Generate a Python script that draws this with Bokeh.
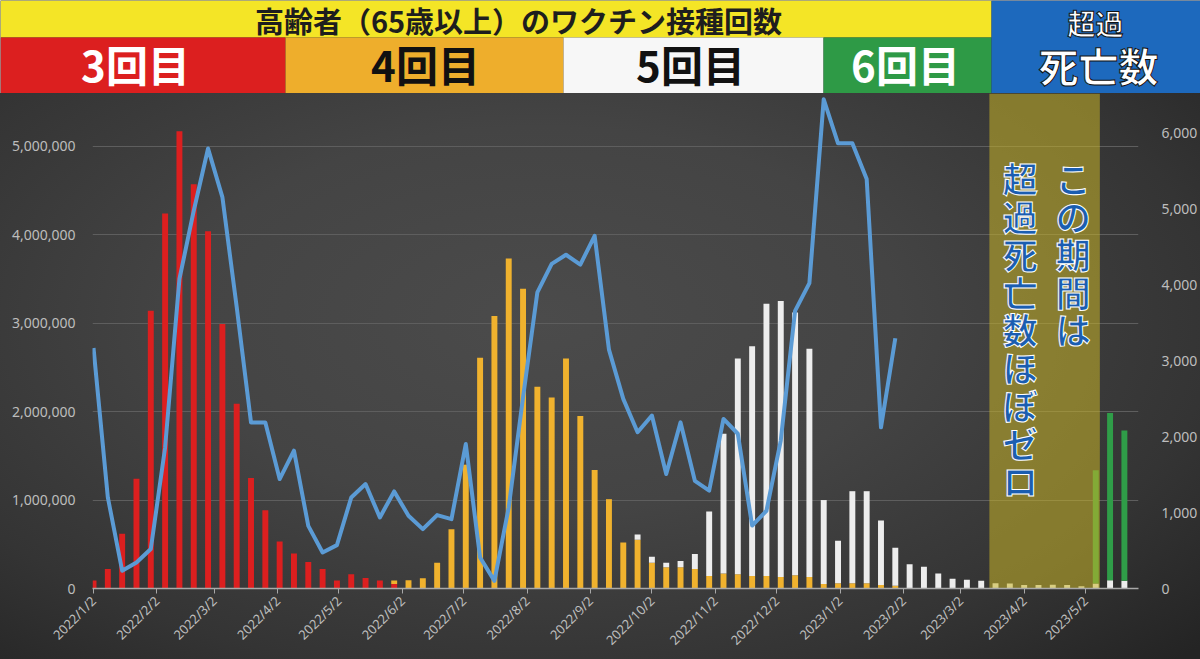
import math
import datetime as dt
from bokeh.plotting import figure
from bokeh.models import Range1d, LinearAxis, FixedTicker, NumeralTickFormatter, ColumnDataSource
from bokeh.layouts import column
from bokeh.embed import file_html
from bokeh.resources import INLINE
from bokeh.core.properties import value

# ---------------- data ----------------
start_date = "2022-01-02"          # first weekly point
n_weeks = 73

dose3 = [90000, 220000, 620000, 1240000, 3140000, 4240000, 5170000, 4570000, 4040000, 2990000,
         2090000, 1250000, 885000, 530000, 395000, 300000, 220000, 90000, 160000, 120000,
         90000, 50000] + [0] * 51

dose4 = [0] * 21 + [40000, 94000, 117000, 290000, 670000, 1400000, 2610000, 3080000, 3730000,
         3390000, 2280000, 2160000, 2600000, 1950000, 1340000, 1010000, 520000, 550000, 290000,
         240000, 240000, 220000, 140000, 170000, 160000, 140000, 140000, 130000, 150000, 130000,
         50000, 60000, 60000, 60000, 40000, 30000] + [0] * 16

dose5 = [0] * 38 + [60000, 70000, 50000, 70000, 170000, 730000, 1580000, 2440000, 2600000,
         3080000, 3120000, 2970000, 2580000, 950000, 480000, 1040000, 1040000, 730000, 430000,
         275000, 245000, 170000, 110000, 98000, 87000, 60000, 56000, 40000, 40000, 42000, 40000,
         26000, 56000, 94000, 87000]

dose6 = [0] * 70 + [1280000, 1890000, 1700000]

excess_deaths = [3170, 1200, 235, 343, 520, 1860, 4080, 4980, 5800, 5160,
                 3710, 2190, 2190, 1443, 1817, 826, 475, 572, 1200, 1377,
                 937, 1280, 959, 783, 968, 915, 1905, 409, 100, 1070,
                 2520, 3905, 4280, 4400, 4270, 4650, 3150, 2500, 2060, 2280,
                 1510, 2190, 1420, 1290, 2235, 2040, 830, 1025, 1950, 3660,
                 4025, 6450, 5870, 5870, 5400, 2125, 3300]

tick_labels = ["2022/1/2", "2022/2/2", "2022/3/2", "2022/4/2", "2022/5/2", "2022/6/2",
               "2022/7/2", "2022/8/2", "2022/9/2", "2022/10/2", "2022/11/2", "2022/12/2",
               "2023/1/2", "2023/2/2", "2023/3/2", "2023/4/2", "2023/5/2"]

left_ticks = [0, 1000000, 2000000, 3000000, 4000000, 5000000]
right_ticks = [0, 1000, 2000, 3000, 4000, 5000, 6000]

band_start = "2023-03-16"
band_end = "2023-05-09"

title_text = "高齢者（65歳以上）のワクチン接種回数"
dose_labels = ["3回目", "4回目", "5回目", "6回目"]
excess_label_top = "超過"
excess_label_bottom = "死亡数"
band_text_right = "この期間は"
band_text_left = "超過死亡数ほぼゼロ"

# ---------------- helpers ----------------
t0 = dt.datetime.strptime(start_date, "%Y-%m-%d")
def day_of(s, fmt):
    return (dt.datetime.strptime(s, fmt) - t0).days

week_x = [7 * i for i in range(n_weeks)]
tick_pos = [day_of(s, "%Y/%m/%d") for s in tick_labels]
b0 = day_of(band_start, "%Y-%m-%d")
b1 = day_of(band_end, "%Y-%m-%d")

RED = "#dc1f1f"
ORANGE = "#f0b22e"
WHITE = "#ededed"
GREEN = "#2f9d48"
BLUE_LINE = "#5b9bd5"
JP = "Noto Sans CJK JP"

# ---------------- header ----------------
hp = figure(width=1200, height=93, x_range=Range1d(0, 1200), y_range=Range1d(93, 0),
            toolbar_location=None, output_backend="svg", min_border=0)
hp.frame_align = False
hp.axis.visible = False
hp.grid.visible = False
hp.outline_line_color = None
hp.background_fill_color = "#2a2a2a"
hp.border_fill_color = "#2a2a2a"

hp.quad(left=[0], right=[991], top=[0], bottom=[37], fill_color="#f4e526", line_color=None)
box_l = [0, 285, 563, 823]
box_r = [285, 563, 823, 991]
box_c = [RED, "#eeae2c", "#f7f7f7", "#2e9a46"]
hp.quad(left=box_l, right=box_r, top=[37] * 4, bottom=[93] * 4, fill_color=box_c, line_color=None)
hp.quad(left=[991], right=[1200], top=[0], bottom=[93], fill_color="#1d69bd", line_color=None)

hp.text(x=[518], y=[19], text=[title_text], text_font=value(JP), text_font_style="bold",
        text_font_size="29px", text_color="#1e1e1e", text_align="center", text_baseline="middle")
hp.text(x=[135, 425, 690, 905], y=[63] * 4, text=dose_labels, text_font=value(JP),
        text_font_style="bold", text_font_size="42px",
        text_color=["#ffffff", "#111111", "#111111", "#ffffff"],
        text_align="center", text_baseline="middle")
hp.text(x=[1095], y=[22], text=[excess_label_top], text_font=value(JP), text_font_style="bold",
        text_font_size="28px", text_color="#ffffff", text_align="center", text_baseline="middle",
        text_outline_color="#111111")
hp.text(x=[1098], y=[64], text=[excess_label_bottom], text_font=value(JP), text_font_style="bold",
        text_font_size="40px", text_color="#ffffff", text_align="center", text_baseline="middle",
        text_outline_color="#111111")

# ---------------- main chart ----------------
y_max_left = 5596000
y_max_right = 6526
mp = figure(width=1200, height=566, x_range=Range1d(-0.5, 510.9), y_range=Range1d(0, y_max_left),
            toolbar_location=None, output_backend="svg",
            min_border_left=92, min_border_right=57, min_border_top=0, min_border_bottom=71)
mp.frame_align = False
mp.background_fill_alpha = 0
mp.border_fill_alpha = 0
mp.outline_line_color = None
mp.styles = {"background": "radial-gradient(ellipse 75% 85% at 45% 40%, #4b4b4b 0%, #444444 40%, #343434 75%, #242424 100%)"}

src = ColumnDataSource(dict(x=week_x, d3=dose3, d4=dose4, d5=dose5, d6=dose6))
mp.vbar_stack(["d3", "d4", "d5", "d6"], x="x", width=2.9, source=src,
              color=[RED, ORANGE, WHITE, GREEN], line_color=None)

# highlighted period
mp.quad(left=[b0], right=[b1], bottom=[0], top=[y_max_left], fill_color="#c8b428",
        fill_alpha=0.55, line_color=None)

mp.extra_y_ranges = {"deaths": Range1d(0, y_max_right)}
mp.line(x=week_x[:len(excess_deaths)], y=excess_deaths, y_range_name="deaths",
        line_color=BLUE_LINE, line_width=4, line_join="round")

# axes
mp.yaxis.ticker = FixedTicker(ticks=left_ticks)
mp.yaxis.formatter = NumeralTickFormatter(format="0,0")
ra = LinearAxis(y_range_name="deaths", ticker=FixedTicker(ticks=right_ticks),
                formatter=NumeralTickFormatter(format="0,0"))
mp.add_layout(ra, "right")
for ax in (mp.yaxis[0], ra):
    ax.axis_line_color = None
    ax.major_tick_line_color = None
    ax.minor_tick_line_color = None
    ax.major_label_text_color = "#bdbdbd"
    ax.major_label_text_font = "Noto Sans"
    ax.major_label_text_font_size = "14px"
mp.yaxis[0].major_label_standoff = 11
ra.major_label_standoff = 17

xa = mp.xaxis[0]
xa.ticker = FixedTicker(ticks=tick_pos)
xa.major_label_overrides = {p: s for p, s in zip(tick_pos, tick_labels)}
xa.major_label_orientation = math.pi / 4
xa.axis_line_color = "#a8a8a8"
xa.axis_line_width = 1.5
xa.major_tick_line_color = "#a8a8a8"
xa.major_tick_out = 5
xa.major_tick_in = 0
xa.minor_tick_line_color = None
xa.major_label_text_color = "#bdbdbd"
xa.major_label_text_font = "Noto Sans"
xa.major_label_text_font_size = "13px"
xa.major_label_standoff = 5

mp.xgrid.visible = False
mp.ygrid.ticker = FixedTicker(ticks=left_ticks[1:])
mp.ygrid.grid_line_color = "#5e5e5e"
mp.ygrid.grid_line_width = 1

# vertical annotation text in the band
bw = b1 - b0
mid = (b0 + b1) / 2
mp.text(x=[mid + 0.26 * bw, mid - 0.22 * bw], y=[4930000, 4930000],
        text=["\n".join(band_text_right), "\n".join(band_text_left)],
        text_font=value(JP), text_font_style="bold", text_font_size="35px",
        text_color="#1b5db0", text_align="center", text_baseline="top",
        text_line_height=0.74, text_outline_color="#ffffff")

layout = column(hp, mp, spacing=0)
open("out.html", "w").write(file_html(layout, INLINE))
